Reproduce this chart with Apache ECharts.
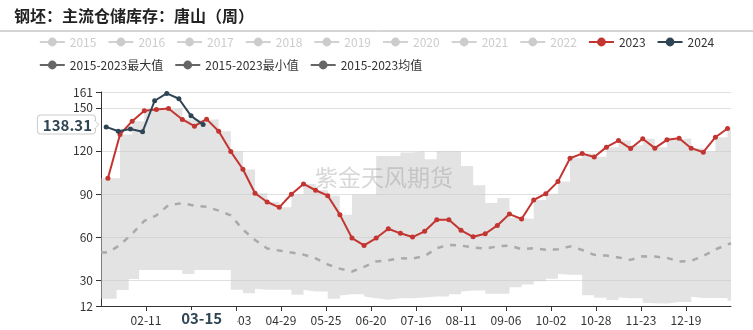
<!DOCTYPE html>
<html><head><meta charset="utf-8">
<script src="https://cdn.jsdelivr.net/npm/echarts@6/dist/echarts.min.js"></script>
<style>html,body{margin:0;padding:0;background:#fff}#c{width:753px;height:330px}</style>
</head><body><div id="c"></div>
<script>
const titleText = '钢坯：主流仓储库存：唐山（周）';
const watermarkText = '紫金天风期货';
const yTicks = [12, 30, 60, 90, 120, 150, 161];
const xTickLabels = ['02-11','03-08','04-03','04-29','05-25','06-20','07-16','08-11','09-06','10-02','10-28','11-23','12-19'];
const hiddenYears = ['2015','2016','2017','2018','2019','2020','2021','2022'];

const dates2023 = ['01-20','01-27','02-03','02-10','02-17','02-24','03-03','03-10','03-17','03-24','03-31','04-07','04-14','04-21','04-28','05-05','05-12','05-19','05-26','06-02','06-09','06-16','06-23','06-30','07-07','07-14','07-21','07-28','08-04','08-11','08-18','08-25','09-01','09-08','09-15','09-22','09-29','10-06','10-13','10-20','10-27','11-03','11-10','11-17','11-24','12-01','12-08','12-15','12-22','12-29','01-05','01-12'];
const values2023 = [100.9,131.4,140.7,147.9,148.8,149.5,141.9,137.2,142.1,133.7,119.5,107.2,90.5,84.4,80.7,89.8,97.0,92.6,88.8,75.6,59.3,54.2,59.3,65.8,62.6,60.0,64.0,72.1,72.1,64.7,60.2,62.3,68.1,76.0,72.6,85.8,90.2,98.6,114.9,118.1,115.8,122.6,127.2,121.6,128.4,121.9,127.7,128.8,121.9,119.1,129.5,135.6];

const dates2024 = ['01-19','01-26','02-02','02-09','02-16','02-23','03-01','03-08','03-15'];
const values2024 = [136.7,133.7,135.3,133.3,154.9,160.0,156.3,144.4,138.31];

// 2015-2023 max / min envelope (stepped), read at each change date
const bandDates = ['01-16','01-20','01-25','01-27','02-01','02-03','02-07','02-10','02-17','02-24','03-03','03-10','03-17','03-24','03-31','04-07','04-14','04-21','04-28','05-05','05-12','05-19','05-26','06-02','06-09','06-16','06-23','06-30','07-07','07-14','07-21','07-28','08-04','08-11','08-18','08-25','09-01','09-08','09-15','09-22','09-29','10-06','10-13','10-20','10-27','11-03','11-10','11-17','11-24','12-01','12-08','12-15','12-22','12-29','01-05','01-12','01-14'];
const maxValues = [100.9,100.9,100.9,131.4,131.4,140.7,140.7,147.9,148.8,149.5,142.0,141.5,142.1,133.7,119.7,107.1,90.5,84.4,80.7,89.8,97.0,92.6,88.8,75.6,89.5,89.5,116.5,116.5,118.8,120.0,114.2,120.0,120.0,109.5,96.0,83.7,87.2,73.5,72.6,85.8,90.2,98.6,114.9,118.1,116.0,122.6,127.2,124.0,128.4,122.5,127.7,128.8,121.9,119.5,129.5,135.6,135.6];
const minValues = [17.0,17.0,23.2,23.2,30.8,30.8,37.0,37.0,37.0,37.0,34.2,37.0,37.0,37.0,23.3,20.9,24.0,23.3,23.3,19.8,23.3,22.1,17.0,19.3,20.2,18.6,17.4,16.3,17.4,17.4,17.9,18.6,20.2,22.1,22.8,20.5,20.5,25.0,27.0,29.2,31.0,34.2,33.7,19.5,17.7,16.2,18.0,17.4,14.2,14.0,13.7,14.7,18.5,17.5,17.6,15.6,15.6];

// 2015-2023 mean
const meanDates = ['01-16','01-20','01-27','02-03','02-10','02-17','02-24','03-03','03-10','03-17','03-24','03-31','04-07','04-14','04-21','04-28','05-05','05-12','05-19','05-26','06-02','06-09','06-16','06-23','06-30','07-07','07-14','07-21','07-28','08-04','08-11','08-18','08-25','09-01','09-08','09-15','09-22','09-29','10-06','10-13','10-20','10-27','11-03','11-10','11-17','11-24','12-01','12-08','12-15','12-22','12-29','01-05','01-12','01-14'];
const meanValues = [49.2,49.2,54.5,62.3,71.2,75.1,82.3,83.6,81.9,81.1,78.4,75.1,65.2,58.0,52.1,50.6,49.2,47.8,45.2,40.9,38.0,36.0,39.3,43.0,43.8,45.3,45.0,46.8,52.2,54.6,54.1,52.7,52.0,53.5,54.1,51.5,52.2,51.1,51.5,53.5,51.0,47.6,47.1,45.8,44.1,46.6,46.4,45.5,42.9,43.4,46.8,51.4,54.8,55.7];

// daily MM-DD categories (leap-year calendar), starting 01-16, 365 days
const categories = [];
const startDay = Date.UTC(2024, 0, 16);
for (let i = 0; i < 365; i++) {
  const d = new Date(startDay + i * 86400000);
  categories.push(String(d.getUTCMonth() + 1).padStart(2, '0') + '-' + String(d.getUTCDate()).padStart(2, '0'));
}

const FONT = '"Noto Sans CJK SC", "Noto Sans", sans-serif';
const pairs = (ds, vs) => ds.map((d, i) => [d, vs[i]]);
const bandValues = maxValues.map((v, i) => +(v - minValues[i]).toFixed(2));

const series = [];
hiddenYears.forEach(y => series.push({ name: y, type: 'line', data: [], symbol: 'circle' }));
series.push({
  name: '2023', type: 'line', data: pairs(dates2023, values2023), z: 5,
  symbol: 'circle', symbolSize: 5, showAllSymbol: true, color: '#c23531',
  lineStyle: { width: 2, color: '#c23531' }, itemStyle: { color: '#c23531' }
});
series.push({
  name: '2024', type: 'line', data: pairs(dates2024, values2024), z: 6,
  symbol: 'circle', symbolSize: 5, showAllSymbol: true, color: '#2f4554',
  lineStyle: { width: 2, color: '#2f4554' }, itemStyle: { color: '#2f4554' }
});
series.push({
  name: '2015-2023最小值', type: 'line', stack: 'band', step: 'end', z: 1,
  data: pairs(bandDates, minValues), symbol: 'none', color: '#666',
  lineStyle: { opacity: 0 }, silent: true
});
series.push({
  name: '2015-2023最大值', type: 'line', stack: 'band', step: 'end', z: 1,
  data: pairs(bandDates, bandValues), symbol: 'none', color: '#666',
  lineStyle: { opacity: 0 }, areaStyle: { color: 'rgba(200,200,200,0.5)', opacity: 1 }, silent: true
});
series.push({
  name: '2015-2023均值', type: 'line', z: 2,
  data: pairs(meanDates, meanValues), symbol: 'none', color: '#666',
  lineStyle: { color: '#aaa', width: 2.5, type: [6, 7] }, silent: true
});

const selected = {};
hiddenYears.forEach(y => selected[y] = false);

const statLegend = n => ({ name: n, itemStyle: { color: '#666' }, lineStyle: { color: '#666', width: 2, opacity: 1, type: 'solid' } });

const chart = echarts.init(document.getElementById('c'), null, { renderer: 'canvas' });
chart.setOption({
  animation: false,
  backgroundColor: '#fff',
  title: {
    text: titleText, left: 9, top: 3,
    textStyle: { fontSize: 16, fontWeight: 'bold', color: '#222', fontFamily: FONT }
  },
  legend: {
    left: 'center', top: 31, itemWidth: 25, itemHeight: 11, itemGap: 11,
    textStyle: { fontSize: 12, color: '#333', fontFamily: FONT, lineHeight: 10 },
    inactiveColor: '#ccc',
    selected: selected,
    data: hiddenYears.concat(['2023', '2024',
      statLegend('2015-2023最大值'), statLegend('2015-2023最小值'), statLegend('2015-2023均值')])
  },
  grid: { left: 101, right: 22, top: 92, bottom: 24 },
  xAxis: {
    type: 'category', data: categories, boundaryGap: false,
    axisLine: { lineStyle: { color: '#333' } },
    axisTick: { interval: (i, v) => xTickLabels.includes(v), lineStyle: { color: '#333' } },
    axisLabel: { interval: (i, v) => xTickLabels.includes(v), color: '#333', fontSize: 12, fontFamily: FONT },
    splitLine: { show: false },
    axisPointer: {
      show: true, status: 'show', type: 'line', triggerTooltip: false,
      value: categories.indexOf(dates2024[dates2024.length - 1]),
      lineStyle: { opacity: 0 },
      label: { show: true, backgroundColor: '#fff', color: '#2f4554', fontWeight: 'bold', fontSize: 15,
               fontFamily: FONT, padding: [1, 15, 1, 12], margin: 4, shadowBlur: 0 }
    }
  },
  yAxis: {
    type: 'value', min: yTicks[0], max: yTicks[yTicks.length - 1],
    axisLine: { show: true, lineStyle: { color: '#333' } },
    axisTick: { show: true, customValues: yTicks, lineStyle: { color: '#333' } },
    axisLabel: { customValues: yTicks, color: '#333', fontSize: 12, fontFamily: FONT },
    splitLine: { show: true, lineStyle: { color: '#e0e0e0' } },
    axisPointer: {
      show: true, status: 'show', type: 'line', triggerTooltip: false,
      value: values2024[values2024.length - 1], snap: false,
      lineStyle: { opacity: 0 },
      label: { show: true, precision: 2, backgroundColor: '#fff', borderColor: '#ccc', borderWidth: 1,
               color: '#2f4554', fontWeight: 'bold', fontSize: 15, fontFamily: FONT,
               padding: [2, 3, 1, 5], margin: 6, shadowBlur: 0 }
    }
  },
  series: series
});

// static decorations: rule under the title, watermark, pointer arrow of the y value label
const py = chart.convertToPixel({ yAxisIndex: 0 }, values2024[values2024.length - 1]);
const ax = chart.convertToPixel({ xAxisIndex: 0 }, 0);
const bx = ax - 6;
chart.setOption({
  graphic: [
    { type: 'line', shape: { x1: 0, y1: 31, x2: 753, y2: 31 }, style: { stroke: '#aaa', lineWidth: 1 }, silent: true },
    { type: 'text', left: 315, top: 166, z: 10, silent: true,
      style: { text: watermarkText, fontSize: 23, fontFamily: FONT, fill: 'rgba(140,140,140,0.35)' } },
    { type: 'polygon', z: 200, zlevel: 1, silent: true,
      shape: { points: [[bx - 0.5, py - 4], [bx + 4, py], [bx - 0.5, py + 4]] },
      style: { fill: '#fff', stroke: '#ccc', lineWidth: 1 } },
    { type: 'rect', z: 201, zlevel: 1, silent: true,
      shape: { x: bx - 1.5, y: py - 3.5, width: 2, height: 7 }, style: { fill: '#fff' } }
  ]
});
</script></body></html>
